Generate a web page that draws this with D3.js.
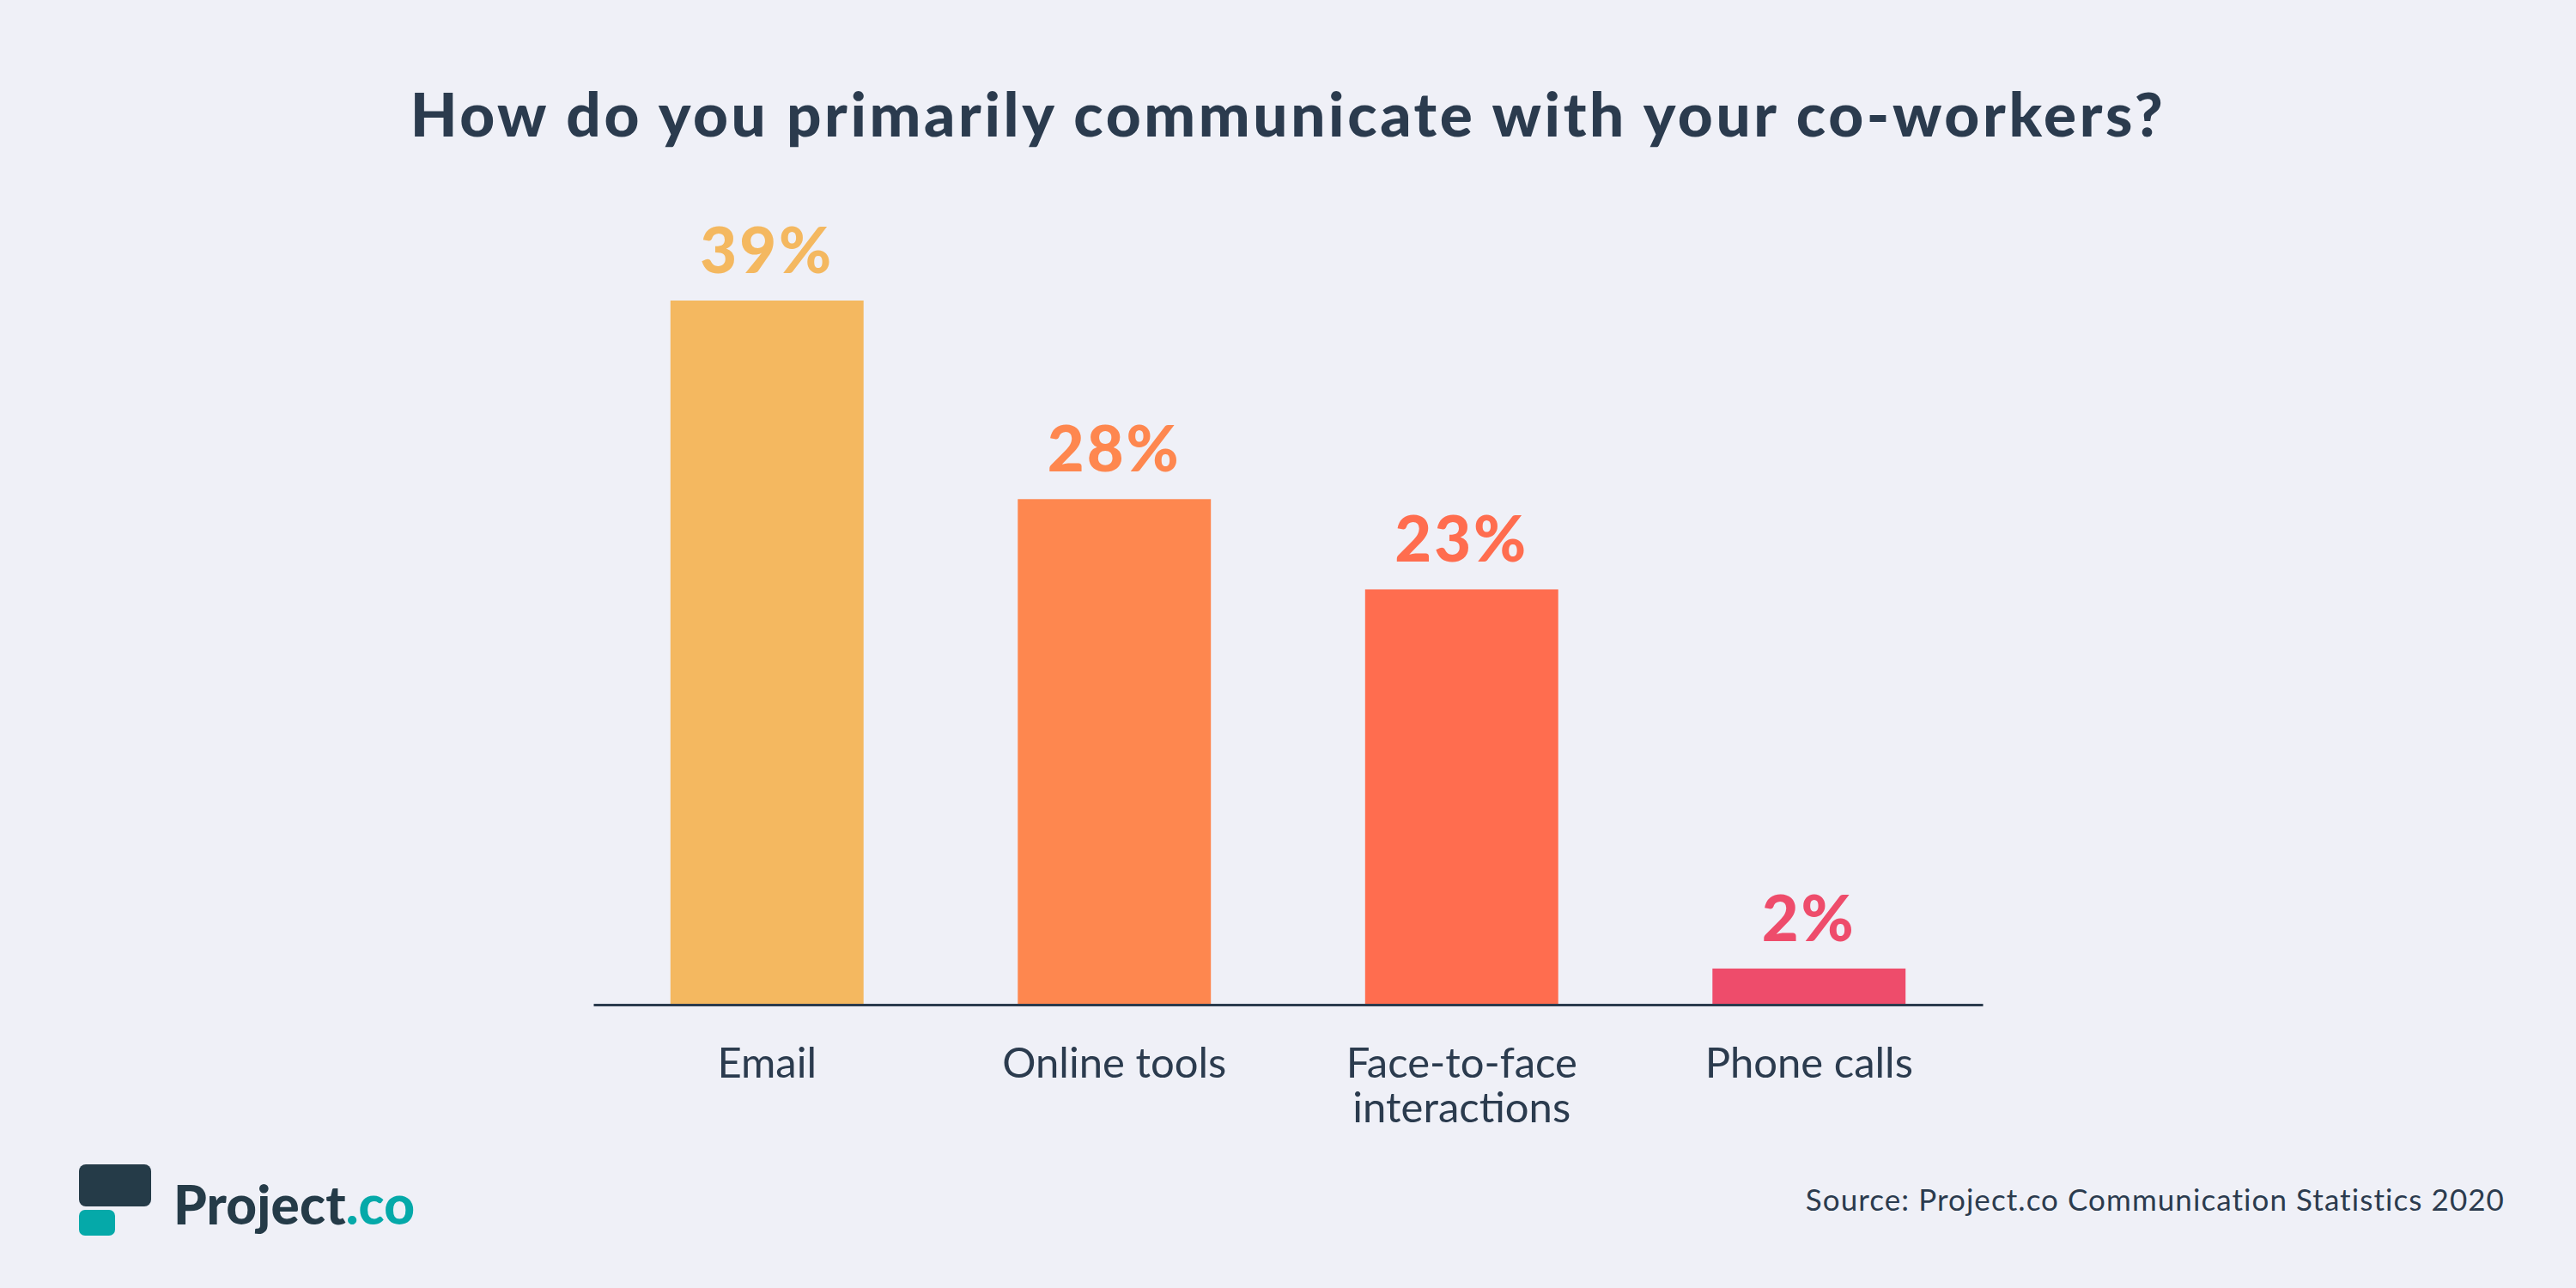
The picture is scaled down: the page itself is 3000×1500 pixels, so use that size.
<!DOCTYPE html>
<html>
<head>
<meta charset="utf-8">
<script src="https://cdn.jsdelivr.net/npm/d3@7"></script>
<style>
  html, body { margin: 0; padding: 0; background: #eff0f7; }
  svg { display: block; }
  text { font-family: Lato, "Open Sans", sans-serif; }
</style>
</head>
<body>
<div class="canvas"></div>
<script>
// chart data
const categories = ['Email', 'Online tools', 'Face-to-face interactions', 'Phone calls']
const shares = [39, 28, 23, 2]
const barColours = ['#f4b860', '#fe874f', '#ff6d4f', '#ee4c6b']
const labelLines = [['Email'], ['Online tools'], ['Face-to-face', 'interactions'], ['Phone calls']]

const title = 'How do you primarily communicate with your co-workers?'
const source = 'Source: Project.co Communication Statistics 2020'

const width = 3000
const height = 1500
const ink = '#2b3b4e'

const svg = d3.select('.canvas')
  .append('svg')
  .attr('width', width)
  .attr('height', height)

svg.append('rect')
  .attr('width', width)
  .attr('height', height)
  .attr('fill', '#eff0f7')

const x = d3.scaleBand()
  .domain(categories)
  .range([691, 2309])
  .paddingInner(0.444)
  .paddingOuter(0.222)

const y = d3.scaleLinear()
  .domain([0, 39])
  .range([1170, 350])

// stretch letter spacing so a text spans the given width
function fitWidth(sel, target) {
  const node = sel.node()
  const len = node.getComputedTextLength()
  const n = sel.text().length
  sel.attr('letter-spacing', (target - len) / (n - 1))
}

// title
const titleText = svg.append('text')
  .attr('x', width / 2)
  .attr('y', 159)
  .attr('text-anchor', 'middle')
  .attr('font-size', 71)
  .attr('font-weight', 900)
  .attr('fill', ink)
  .text(title)
fitWidth(titleText, 2041)

const graph = svg.append('g')

graph.selectAll('rect.bar')
  .data(shares)
  .enter().append('rect')
  .attr('class', 'bar')
  .attr('x', (d, i) => x(categories[i]))
  .attr('y', d => y(d))
  .attr('width', x.bandwidth())
  .attr('height', d => y(0) - y(d))
  .attr('fill', (d, i) => barColours[i])

graph.selectAll('text.value')
  .data(shares)
  .enter().append('text')
  .attr('class', 'value')
  .attr('x', (d, i) => x(categories[i]) + x.bandwidth() / 2)
  .attr('y', d => y(d) - 32)
  .attr('text-anchor', 'middle')
  .attr('font-size', 74)
  .attr('font-weight', 900)
  .attr('letter-spacing', 3)
  .attr('fill', (d, i) => barColours[i])
  .text(d => `${d}%`)

// baseline + category labels
const axis = svg.append('g')
  .attr('transform', `translate(0, ${y(0)})`)
  .call(d3.axisBottom(x).tickSize(0).tickSizeOuter(0).tickPadding(0))

axis.select('.domain')
  .attr('stroke', ink)
  .attr('stroke-width', 3)

axis.selectAll('.tick text')
  .attr('fill', ink)
  .attr('font-size', 49)
  .attr('font-family', 'Lato, "Open Sans", sans-serif')
  .text(null)
  .each(function (d, i) {
    const t = d3.select(this)
    labelLines[i].forEach((line, j) => {
      t.append('tspan')
        .attr('x', 0)
        .attr('y', 85 + j * 52)
        .text(line)
    })
  })
axis.selectAll('.tick text').attr('dy', null)

// logo
const logo = svg.append('g')
logo.append('rect')
  .attr('x', 92).attr('y', 1356)
  .attr('width', 84).attr('height', 49)
  .attr('rx', 8)
  .attr('fill', '#253b48')
logo.append('rect')
  .attr('x', 92).attr('y', 1409)
  .attr('width', 42).attr('height', 30)
  .attr('rx', 7)
  .attr('fill', '#05a9a9')
const logoText = logo.append('text')
  .attr('x', 202)
  .attr('y', 1426)
  .attr('font-size', 62)
  .attr('font-weight', 900)
  .attr('fill', '#253b48')
logoText.append('tspan').text('Project')
logoText.append('tspan').attr('fill', '#05a9a9').text('.co')
fitWidth(logoText, 281)

// source
const sourceText = svg.append('text')
  .attr('x', 2917)
  .attr('y', 1410)
  .attr('text-anchor', 'end')
  .attr('font-size', 35)
  .attr('fill', ink)
  .text(source)
fitWidth(sourceText, 815)
</script>
</body>
</html>
